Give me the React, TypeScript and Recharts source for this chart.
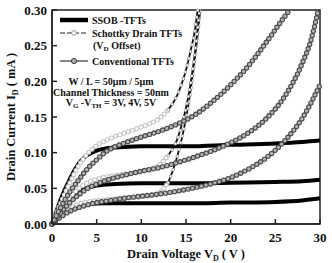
import React from "react";
import { LineChart, Line, XAxis, YAxis, ReferenceArea, Label } from "recharts";

type Pair = [number, number];

const serif = "Liberation Serif, serif";

const xTicks = [0, 5, 10, 15, 20, 25, 30];
const yTicks = [0, 0.05, 0.1, 0.15, 0.2, 0.25, 0.3];

// SSOB-TFTs, VG-VTH = 3V, 4V, 5V  [VD (V), ID (mA)]
const ssob3: Pair[] = [[0, 0], [1, 0.012], [2, 0.021], [3, 0.026], [4, 0.028], [6, 0.029], [10, 0.029], [15, 0.029], [20, 0.03], [25, 0.031], [28, 0.033], [30, 0.036]];
const ssob4: Pair[] = [[0, 0], [0.5, 0.01], [1, 0.02], [2, 0.035], [3, 0.045], [4, 0.051], [5, 0.054], [7, 0.056], [10, 0.057], [15, 0.057], [20, 0.058], [25, 0.059], [28, 0.06], [30, 0.062]];
const ssob5: Pair[] = [[0, 0], [0.5, 0.018], [1, 0.035], [1.5, 0.05], [2, 0.063], [2.5, 0.075], [3, 0.085], [3.5, 0.092], [4, 0.097], [5, 0.103], [6, 0.106], [8, 0.108], [10, 0.109], [15, 0.109], [20, 0.111], [25, 0.113], [28, 0.115], [30, 0.117]];

// Schottky drain TFTs (VD offset)
const sch3: Pair[] = [[0, 0], [1, 0.012], [2, 0.022], [3, 0.028], [4, 0.031], [6, 0.034], [8, 0.036], [10, 0.038], [11, 0.04], [12, 0.044], [13, 0.058], [13.5, 0.074], [14, 0.094], [14.5, 0.118], [15, 0.148], [15.5, 0.186], [16, 0.232], [16.6, 0.3]];
const sch4: Pair[] = [[0, 0], [1, 0.02], [2, 0.037], [3, 0.05], [4, 0.058], [5, 0.063], [6, 0.066], [8, 0.07], [10, 0.074], [11, 0.077], [12, 0.083], [13, 0.096], [14, 0.118], [14.5, 0.138], [15, 0.163], [15.5, 0.196], [16, 0.24], [16.5, 0.3]];
const sch5: Pair[] = [[0, 0], [1, 0.03], [2, 0.058], [3, 0.082], [4, 0.099], [5, 0.11], [6, 0.117], [8, 0.127], [10, 0.136], [11, 0.141], [12, 0.148], [13, 0.16], [14, 0.18], [14.5, 0.196], [15, 0.216], [15.5, 0.242], [16, 0.272], [16.3, 0.3]];

// Conventional TFTs
const conv3: Pair[] = [[0, 0], [1, 0.01], [2, 0.018], [3, 0.023], [4, 0.027], [5, 0.03], [6, 0.032], [8, 0.036], [10, 0.039], [12, 0.042], [14, 0.046], [16, 0.051], [18, 0.057], [20, 0.065], [22, 0.077], [24, 0.093], [26, 0.116], [28, 0.148], [30, 0.195]];
const conv4: Pair[] = [[0, 0], [1, 0.016], [2, 0.03], [3, 0.041], [4, 0.05], [5, 0.056], [6, 0.061], [8, 0.068], [10, 0.074], [12, 0.079], [14, 0.086], [16, 0.094], [18, 0.103], [20, 0.114], [22, 0.128], [24, 0.148], [26, 0.178], [28, 0.225], [29, 0.258], [29.8, 0.3]];
const conv5: Pair[] = [[0, 0], [1, 0.024], [2, 0.045], [3, 0.062], [4, 0.078], [5, 0.09], [6, 0.101], [7, 0.108], [8, 0.113], [10, 0.122], [12, 0.13], [14, 0.14], [16, 0.153], [18, 0.172], [20, 0.195], [22, 0.222], [24, 0.255], [26, 0.29], [26.6, 0.3]];

const ssob = [ssob3, ssob4, ssob5];
const schottky = [sch3, sch4, sch5];
const conventional = [conv3, conv4, conv5];

// above this drain voltage the Schottky curves shoot up and the markers thin out
const knee = 13;

const pts = (a: Pair[]) => a.map(([v, i]) => ({ v, i }));

const XTitle = ({ viewBox }: any) => {
  const { x, width } = viewBox;
  return (
    <text x={x + width / 2} y={258} textAnchor="middle" style={{ fontFamily: serif }} fontWeight="bold" fontSize={12.5} fill="#111">
      Drain Voltage V<tspan fontSize={8} dy={3}>D</tspan>
      <tspan dy={-3}> ( V )</tspan>
    </text>
  );
};

const YTitle = () => (
  <text x={0} y={0} transform="translate(15,117) rotate(-90)" textAnchor="middle" style={{ fontFamily: serif }} fontWeight="bold" fontSize={12.5} fill="#111">
    Drain Current I<tspan fontSize={8} dy={3}>D</tspan>
    <tspan dy={-3}> ( mA )</tspan>
  </text>
);

// legend and device notes in the upper-left corner of the plot
const Notes = () => (
  <svg width={332} height={263} style={{ position: "absolute", left: 0, top: 0, pointerEvents: "none", fontFamily: serif }} fontWeight="bold" fontSize={10} fill="#111">
    <line x1={60} x2={88} y1={20} y2={20} stroke="#000" strokeWidth={4.5} />
    <text x={92} y={24}>SSOB -TFTs</text>
    <line x1={60} x2={88} y1={33} y2={33} stroke="#222" strokeWidth={1.2} strokeDasharray="5 2" />
    <circle cx={74} cy={33} r={2.4} fill="#fff" stroke="#999" strokeWidth={1} />
    <text x={92} y={37}>Schottky Drain TFTs</text>
    <text x={93} y={49}>
      (V<tspan fontSize={7} dy={2}>D</tspan>
      <tspan dy={-2}> Offset)</tspan>
    </text>
    <line x1={60} x2={88} y1={61} y2={61} stroke="#333" strokeWidth={1.2} />
    <circle cx={74} cy={61} r={2.6} fill="#aaa" stroke="#444" strokeWidth={1} />
    <text x={92} y={65}>Conventional TFTs</text>
    <text x={111} y={85} textAnchor="middle">W / L = 50μm / 5μm</text>
    <text x={111} y={96} textAnchor="middle">Channel Thickness = 50nm</text>
    <text x={111} y={106} textAnchor="middle">
      V<tspan fontSize={7} dy={2}>G</tspan>
      <tspan dy={-2}> -V</tspan>
      <tspan fontSize={7} dy={2}>TH</tspan>
      <tspan dy={-2}> = 3V, 4V, 5V</tspan>
    </text>
  </svg>
);

export default function App() {
  const tick = { fontSize: 13, fontWeight: "bold", fill: "#111", style: { fontFamily: serif } };
  return (
    <div style={{ position: "absolute", left: 0, top: 0, width: 332, height: 263, background: "#fff", fontFamily: serif }}>
      <LineChart width={332} height={263} margin={{ top: 10, right: 12, left: 0, bottom: 0 }}>
        <XAxis
          dataKey="v"
          type="number"
          domain={[0, 30]}
          ticks={xTicks}
          height={39}
          tick={tick}
          tickSize={-5}
          tickMargin={14}
          stroke="#222"
          strokeWidth={1.5}
        >
          <Label content={XTitle} />
        </XAxis>
        <YAxis
          dataKey="i"
          type="number"
          domain={[0, 0.3]}
          ticks={yTicks}
          width={52}
          tick={tick}
          tickSize={-5}
          tickMargin={10}
          tickFormatter={(v: number) => v.toFixed(2)}
          stroke="#222"
          strokeWidth={1.5}
        >
          <Label content={YTitle} />
        </YAxis>
        <ReferenceArea x1={0} x2={30} y1={0} y2={0.3} fill="none" stroke="#222" strokeWidth={1.5} />

        {ssob.map((s, k) => (
          <Line key={`ssob${k}`} data={pts(s)} dataKey="i" type="monotone" stroke="#000" strokeWidth={4} dot={false} isAnimationActive={false} />
        ))}

        {/* Schottky: dense open circles below the knee, line with sparse circles above it */}
        {schottky.map((s, k) => [
          <Line key={`sl${k}o`} data={pts(s.filter(([v]) => v <= knee))} dataKey="i" type="monotone" stroke="#c4c4c4" strokeWidth={5} strokeDasharray="0 4.5" strokeLinecap="round" dot={false} isAnimationActive={false} />,
          <Line key={`sl${k}i`} data={pts(s.filter(([v]) => v <= knee))} dataKey="i" type="monotone" stroke="#fff" strokeWidth={3} strokeDasharray="0 4.5" strokeLinecap="round" dot={false} isAnimationActive={false} />,
          <Line key={`sh${k}l`} data={pts(s.filter(([v]) => v >= knee))} dataKey="i" type="monotone" stroke="#111" strokeWidth={1.8} dot={false} isAnimationActive={false} />,
          <Line key={`sh${k}o`} data={pts(s.filter(([v]) => v >= knee))} dataKey="i" type="monotone" stroke="#999" strokeWidth={3.6} strokeDasharray="0 7" strokeLinecap="round" dot={false} isAnimationActive={false} />,
          <Line key={`sh${k}i`} data={pts(s.filter(([v]) => v >= knee))} dataKey="i" type="monotone" stroke="#fff" strokeWidth={2} strokeDasharray="0 7" strokeLinecap="round" dot={false} isAnimationActive={false} />,
        ])}

        {/* conventional: grey ringed circles strung along a thin line */}
        {conventional.map((s, k) => [
          <Line key={`c${k}l`} data={pts(s)} dataKey="i" type="monotone" stroke="#444" strokeWidth={1} dot={false} isAnimationActive={false} />,
          <Line key={`c${k}o`} data={pts(s)} dataKey="i" type="monotone" stroke="#4a4a4a" strokeWidth={5.4} strokeDasharray="0 4.6" strokeLinecap="round" dot={false} isAnimationActive={false} />,
          <Line key={`c${k}i`} data={pts(s)} dataKey="i" type="monotone" stroke="#b4b4b4" strokeWidth={3.2} strokeDasharray="0 4.6" strokeLinecap="round" dot={false} isAnimationActive={false} />,
        ])}
      </LineChart>
      <Notes />
    </div>
  );
}
